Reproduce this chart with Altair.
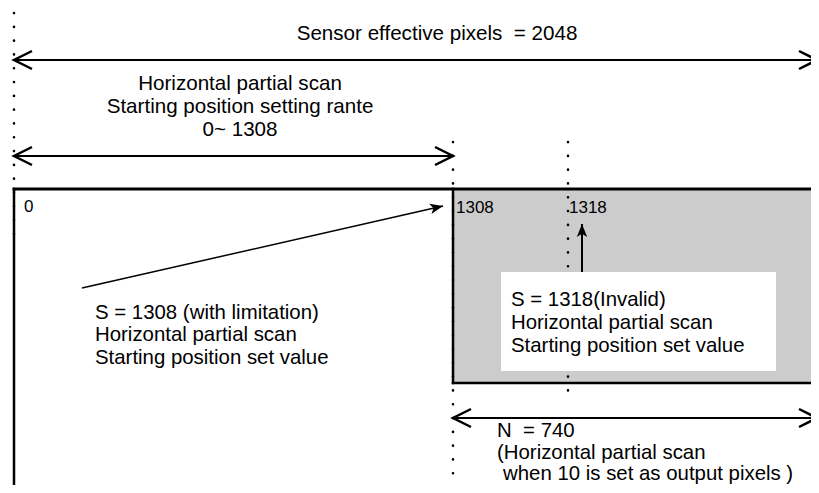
import math
import altair as alt
import pandas as pd

# ---- diagram geometry (in picture pixel units) ----
# dimension arrows (double headed): y, x start, x end
dim_y = [60, 156, 418]
dim_x1 = [14, 14, 453]
dim_x2 = [817, 453, 817]

# box outline segments
edge_x1 = [14, 14, 453, 453]
edge_y1 = [189, 189, 189, 383]
edge_x2 = [819, 14, 453, 819]
edge_y2 = [189, 493, 383, 383]
edge_w = [3, 2.5, 2.5, 2.5]

# gray (output) region and white note box
gray_x1, gray_x2, gray_y1, gray_y2 = [453], [819], [189], [383]
note_x1, note_x2, note_y1, note_y2 = [501], [776], [272], [371]

# dotted guide lines
dot_x = [14, 453, 568]
dot_y1 = [13, 142, 142]
dot_y2 = [236, 476, 392]

# pointer arrows: start -> tip
ptr_x1 = [82, 582]
ptr_y1 = [288, 272]
ptr_x2 = [443, 582]
ptr_y2 = [206, 224]
ptr_w = [1.5, 2]

# texts
center_text = ["Sensor effective pixels \u00a0= 2048",
               "Horizontal partial scan",
               "Starting position setting rante",
               "0~ 1308"]
center_x = [437, 240, 240, 240]
center_y = [40, 90, 113, 136]

left_text = ["0", "1308", "1318",
             "S = 1308 (with limitation)",
             "Horizontal partial scan",
             "Starting position set value",
             "S = 1318(Invalid)",
             "Horizontal partial scan",
             "Starting position set value",
             "N \u00a0= 740",
             "(Horizontal partial scan",
             "when 10 is set as output pixels )"]
left_x = [24, 456, 569, 95, 95, 95, 511, 511, 511, 497, 497, 503]
left_y = [212, 213, 213, 319, 341, 364, 306, 329, 352, 437, 459, 480]
left_size = [17, 17, 17, 20.4, 20.4, 20.4, 20.4, 20.4, 20.4, 20.4, 20.4, 20.4]

FONT = "Liberation Sans"
GRAY = "#cccccc"

xs = alt.Scale(domain=[8, 811], nice=False, zero=False)
ys = alt.Scale(domain=[8, 485], nice=False, zero=False, reverse=True)


def X(f):
    return alt.X(f, type="quantitative", scale=xs, axis=None)


def Y(f):
    return alt.Y(f, type="quantitative", scale=ys, axis=None)


gray_df = pd.DataFrame({"x1": gray_x1, "x2": gray_x2, "y1": gray_y1, "y2": gray_y2})
note_df = pd.DataFrame({"x1": note_x1, "x2": note_x2, "y1": note_y1, "y2": note_y2})

gray = alt.Chart(gray_df).mark_rect(color=GRAY).encode(
    x=X("x1"), x2="x2", y=Y("y1"), y2="y2")

dots_df = pd.DataFrame({"x": dot_x, "y1": dot_y1, "y2": dot_y2})
dots = alt.Chart(dots_df).mark_rule(
    color="black", strokeWidth=2.6, strokeDash=[0.1, 13.7], strokeCap="round"
).encode(x=X("x"), y=Y("y1"), y2="y2")

note = alt.Chart(note_df).mark_rect(color="white").encode(
    x=X("x1"), x2="x2", y=Y("y1"), y2="y2")

edge_df = pd.DataFrame({"x1": edge_x1, "y1": edge_y1, "x2": edge_x2, "y2": edge_y2, "w": edge_w})
edges = alt.Chart(edge_df).mark_rule(color="black", strokeCap="square").encode(
    x=X("x1"), x2="x2", y=Y("y1"), y2="y2",
    strokeWidth=alt.StrokeWidth("w:Q", scale=None))

dim_df = pd.DataFrame({"y": dim_y, "x1": dim_x1, "x2": dim_x2})
dims = alt.Chart(dim_df).mark_rule(color="black", strokeWidth=2.2).encode(
    x=X("x1"), x2="x2", y=Y("y"))

LEFT_HEAD = "M2,-1L0,0L2,1"
RIGHT_HEAD = "M-2,-1L0,0L-2,1"
heads_df = pd.DataFrame({
    "x": dim_x1 + dim_x2,
    "y": dim_y + dim_y,
    "side": ["left"] * len(dim_y) + ["right"] * len(dim_y),
})
heads = alt.Chart(heads_df).mark_point(
    filled=False, color="black", opacity=1, strokeWidth=2.5, size=324,
    strokeJoin="miter"
).encode(
    x=X("x"), y=Y("y"),
    shape=alt.Shape("side:N", scale=alt.Scale(domain=["left", "right"],
                                              range=[LEFT_HEAD, RIGHT_HEAD]),
                    legend=None))

ptr_df = pd.DataFrame({"x1": ptr_x1, "y1": ptr_y1, "x2": ptr_x2, "y2": ptr_y2, "w": ptr_w})
ptr_df["ang"] = [math.degrees(math.atan2(x2 - x1, -(y2 - y1)))
                 for x1, y1, x2, y2 in zip(ptr_x1, ptr_y1, ptr_x2, ptr_y2)]
ptr_lines = alt.Chart(ptr_df).mark_rule(color="black").encode(
    x=X("x1"), x2="x2", y=Y("y1"), y2="y2",
    strokeWidth=alt.StrokeWidth("w:Q", scale=None))

TIP = "M0,0L0.8,2L0,1.5L-0.8,2Z"
ptr_heads = alt.Chart(ptr_df).mark_point(
    filled=True, color="black", opacity=1, shape=TIP, size=169
).encode(x=X("x2"), y=Y("y2"), angle=alt.Angle("ang:Q", scale=None))

ct_df = pd.DataFrame({"x": center_x, "y": center_y, "t": center_text})
ctext = alt.Chart(ct_df).mark_text(
    font=FONT, fontSize=20.6, align="center", baseline="alphabetic", color="black"
).encode(x=X("x"), y=Y("y"), text="t:N")

lt_df = pd.DataFrame({"x": left_x, "y": left_y, "t": left_text, "s": left_size})
ltext = alt.Chart(lt_df).mark_text(
    font=FONT, align="left", baseline="alphabetic", color="black"
).encode(x=X("x"), y=Y("y"), text="t:N", size=alt.Size("s:Q", scale=None))

chart = alt.layer(
    gray, dots, note, edges, dims, heads, ptr_lines, ptr_heads, ctext, ltext
).properties(
    width=803, height=477, padding=0,
    autosize=alt.AutoSizeParams(type="none"),
    background="white",
).configure_view(stroke=None)

chart.save("out.html", embed_options={"renderer": "svg", "actions": False})
